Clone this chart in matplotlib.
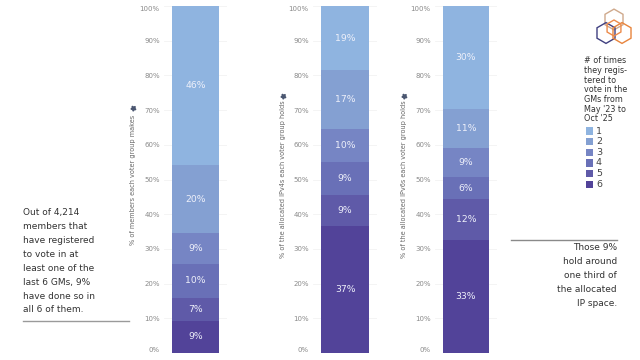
import matplotlib
matplotlib.use('Agg')
import matplotlib.pyplot as plt
import numpy as np
from matplotlib.patches import Polygon, Rectangle
from matplotlib.transforms import ScaledTranslation

plt.rcParams['font.family'] = ['DejaVu Sans']

W, H = 640, 360

groups = ['1', '2', '3', '4', '5', '6']
colors = ['#8fb4e0', '#84a0d2', '#7685c4', '#6970b7', '#5f5aa8', '#524399']
members = [45.8, 19.7, 8.9, 9.7, 6.6, 9.3]
ipv4s = [18.5, 17.0, 9.5, 9.4, 9.0, 36.6]
ipv6s = [29.8, 11.0, 8.6, 6.2, 11.8, 32.6]
member_labels = ['46%', '20%', '9%', '10%', '7%', '9%']
ipv4_labels = ['19%', '17%', '10%', '9%', '9%', '37%']
ipv6_labels = ['30%', '11%', '9%', '6%', '12%', '33%']
yticks = [0, 10, 20, 30, 40, 50, 60, 70, 80, 90, 100]
ylabels = ['% of members each voter group makes',
           '% of the allocated IPv4s each voter group holds',
           '% of the allocated IPv6s each voter group holds']
legend_title = ['# of times', 'they regis-', 'tered to', 'vote in the', 'GMs from', "May '23 to", "Oct '25"]
left_note = ['Out of 4,214', 'members that', 'have registered', 'to vote in at',
             'least one of the', 'last 6 GMs, 9%', 'have done so in', 'all 6 of them.']
right_note = ['Those 9%', 'hold around', 'one third of', 'the allocated', 'IP space.']


def px_axes(fig, x0, x1, y0, y1):
    return fig.add_axes([x0 / W, 1 - y1 / H, (x1 - x0) / W, (y1 - y0) / H])


def stacked(ax, values, labels, ylabel, label_x, pin_y):
    bottom = 100.0
    for v, lab, c in zip(values, labels, colors):
        bottom -= v
        ax.bar(0, v, bottom=bottom, width=0.75, color=c, zorder=3)
        ax.text(0, bottom + v / 2, lab, color='#eef0fa', fontsize=6.7,
                ha='center', va='center', zorder=4)
    ax.set_xlim(-0.5, 0.5)
    ax.set_ylim(0, 100)
    ax.set_xticks([])
    ax.set_yticks(yticks)
    ax.set_yticklabels([f'{t}%' for t in yticks], fontsize=5, color='#8a8a8a')
    labs = ax.get_yticklabels()
    labs[0].set_va('bottom')
    labs[-1].set_va('top')
    labs[-1].set_transform(labs[-1].get_transform() + ScaledTranslation(0, -1.5 / 72, fig.dpi_scale_trans))
    ax.tick_params(axis='y', length=0, pad=3)
    ax.grid(axis='y', color='#f3f3f3', lw=0.6, zorder=0)
    for s in ax.spines.values():
        s.set_visible(False)
    ax.text(label_x, 0.5, ylabel, transform=ax.transAxes, rotation=90, fontsize=4.7,
            color='#666666', ha='center', va='center')
    ax.plot([label_x], [pin_y], marker=(5, 1, 30), ms=3.8, color='#4a5670', clip_on=False,
            transform=ax.transAxes)


fig = plt.figure(figsize=(6.4, 3.6), dpi=100)
stacked(px_axes(fig, 164, 227, 6, 353), members, member_labels, ylabels[0], -0.49, 0.705)
stacked(px_axes(fig, 313, 377, 6, 353), ipv4s, ipv4_labels, ylabels[1], -0.47, 0.74)
stacked(px_axes(fig, 435, 497, 6, 353), ipv6s, ipv6_labels, ylabels[2], -0.50, 0.74)

# overlay in pixel coordinates for notes, legend and logo
ov = fig.add_axes([0, 0, 1, 1])
ov.set_xlim(0, W)
ov.set_ylim(H, 0)
ov.axis('off')
ov.patch.set_alpha(0)

for i, line in enumerate(left_note):
    ov.text(23, 213 + i * 13.85, line, fontsize=6.5, color='#333333', va='center', ha='left')
ov.plot([23, 129], [321, 321], color='#9a9a9a', lw=1)

for i, line in enumerate(right_note):
    ov.text(617, 248 + i * 13.9, line, fontsize=6.5, color='#333333', va='center', ha='right')
ov.plot([511, 617], [240, 240], color='#8a8a8a', lw=1)

for i, line in enumerate(legend_title):
    ov.text(584, 60.7 + i * 9.67, line, fontsize=5.8, color='#333333', va='center', ha='left')
for i, (g, c) in enumerate(zip(groups, colors)):
    y = 131 + i * 10.65
    ov.add_patch(Rectangle((585.5, y - 3.7), 7.5, 7.5, color=c, lw=0))
    ov.text(596, y, g, fontsize=6.8, color='#444444', va='center', ha='left')


def hexagon(cx, cy, r, color):
    a = np.radians(np.arange(30, 390, 60))
    pts = np.column_stack([cx + r * np.cos(a), cy + r * np.sin(a)])
    ov.add_patch(Polygon(pts, closed=True, fill=False, ec=color, lw=1.0))


hexagon(614, 19.5, 10.4, '#cfa98c')
hexagon(606, 33, 10.4, '#3f3f80')
hexagon(622, 33, 10.4, '#e8843c')
hexagon(614, 28, 8, '#ec8a4a')

fig.savefig('out.png', dpi=100)
